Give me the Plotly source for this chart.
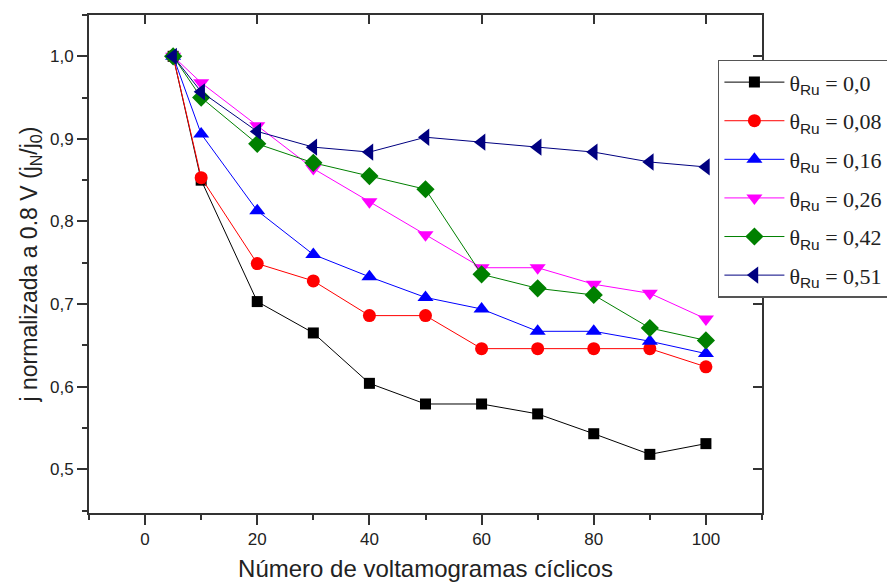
import plotly.graph_objects as go

ciclos = [5, 10, 20, 30, 40, 50, 60, 70, 80, 90, 100]

theta_000 = [1.0, 0.850, 0.703, 0.665, 0.604, 0.579, 0.579, 0.567, 0.543, 0.518, 0.531]
theta_008 = [1.0, 0.853, 0.749, 0.728, 0.686, 0.686, 0.646, 0.646, 0.646, 0.646, 0.624]
theta_016 = [1.0, 0.906, 0.813, 0.760, 0.733, 0.708, 0.694, 0.667, 0.667, 0.655, 0.640]
theta_026 = [1.0, 0.968, 0.916, 0.864, 0.824, 0.784, 0.744, 0.744, 0.724, 0.713, 0.682]
theta_042 = [1.0, 0.950, 0.894, 0.871, 0.855, 0.839, 0.736, 0.719, 0.711, 0.671, 0.656]
theta_051 = [1.0, 0.957, 0.909, 0.890, 0.884, 0.902, 0.896, 0.890, 0.884, 0.872, 0.866]

theta_labels = ["0,0", "0,08", "0,16", "0,26", "0,42", "0,51"]
series = [theta_000, theta_008, theta_016, theta_026, theta_042, theta_051]
colors = ["#000000", "#FF0000", "#0000FF", "#FF00FF", "#008000", "#000080"]
symbols = ["square", "circle", "triangle-up", "triangle-down", "diamond", "triangle-left"]
sizes = [11, 13, 14, 14, 14, 15]

fig = go.Figure()
for i, (lab, ys, c, s, sz) in enumerate(zip(theta_labels, series, colors, symbols, sizes)):
    nm = ("θ<sub><span style='font-family:Liberation Sans, Arial'>Ru</span></sub> = " + lab)
    fig.add_trace(go.Scatter(
        x=ciclos, y=ys, name=nm, mode="lines+markers", legendgroup="g%d" % i,
        line=dict(color=c, width=1),
        marker=dict(symbol=s, color=c, size=sz, line=dict(width=0)),
    ))

# overlay axes to draw inner ticks on top/right frame
fig.add_trace(go.Scatter(x=[], y=[], xaxis="x2", yaxis="y2", showlegend=False, hoverinfo="skip"))

axis_font = dict(family="Liberation Sans, Arial", size=17, color="#222")
yrange = [0.447, 1.05]
xrange_ = [-10, 110]

fig.update_layout(
    width=887, height=587,
    margin=dict(l=89, r=125, t=15, b=74, autoexpand=False),
    paper_bgcolor="white", plot_bgcolor="white",
    separators=",.",
    font=dict(family="Liberation Sans, Arial", color="#222"),
    xaxis=dict(
        range=xrange_, tickmode="linear", tick0=0, dtick=20,
        ticks="outside", ticklen=10, tickwidth=2, tickcolor="#333",
        minor=dict(ticks="outside", dtick=10, tick0=0, ticklen=5, tickwidth=2, tickcolor="#333", showgrid=False),
        showline=True, linecolor="#333", linewidth=2, showgrid=False, zeroline=False,
        tickfont=axis_font,
        title=dict(text="Número de voltamogramas cíclicos",
                   font=dict(family="Liberation Sans, Arial", size=24, color="#222"), standoff=12),
    ),
    yaxis=dict(
        range=yrange, tickmode="linear", tick0=0.5, dtick=0.1, tickformat=".1f",
        ticks="outside", ticklen=10, tickwidth=2, tickcolor="#333",
        minor=dict(ticks="outside", dtick=0.05, tick0=0.5, ticklen=5, tickwidth=2, tickcolor="#333", showgrid=False),
        showline=True, linecolor="#333", linewidth=2, showgrid=False, zeroline=False,
        tickfont=axis_font,
        title=dict(text="j normalizada a 0.8 V (j<sub>N</sub>/j<sub>0</sub>)",
                   font=dict(family="Liberation Sans, Arial", size=23, color="#222"), standoff=6),
    ),
    xaxis2=dict(
        overlaying="x", side="top", anchor="y2", range=xrange_, tickmode="linear", tick0=0, dtick=20,
        ticks="inside", ticklen=9, tickwidth=2, tickcolor="#333", showticklabels=False,
        showline=True, linecolor="#333", linewidth=2, showgrid=False, zeroline=False,
    ),
    yaxis2=dict(
        overlaying="y", side="right", anchor="x2", range=yrange, tickmode="linear", tick0=0.5, dtick=0.1,
        ticks="inside", ticklen=9, tickwidth=2, tickcolor="#333", showticklabels=False,
        showline=True, linecolor="#333", linewidth=2, showgrid=False, zeroline=False,
    ),
    legend=dict(
        x=0.9345, y=0.91, xanchor="left", yanchor="top",
        bgcolor="white", bordercolor="#555", borderwidth=1.5,
        font=dict(family="Liberation Serif, Times New Roman", size=22, color="#222"),
        itemwidth=60, tracegroupgap=7,
    ),
    showlegend=True,
)

fig.write_html("out.html")
